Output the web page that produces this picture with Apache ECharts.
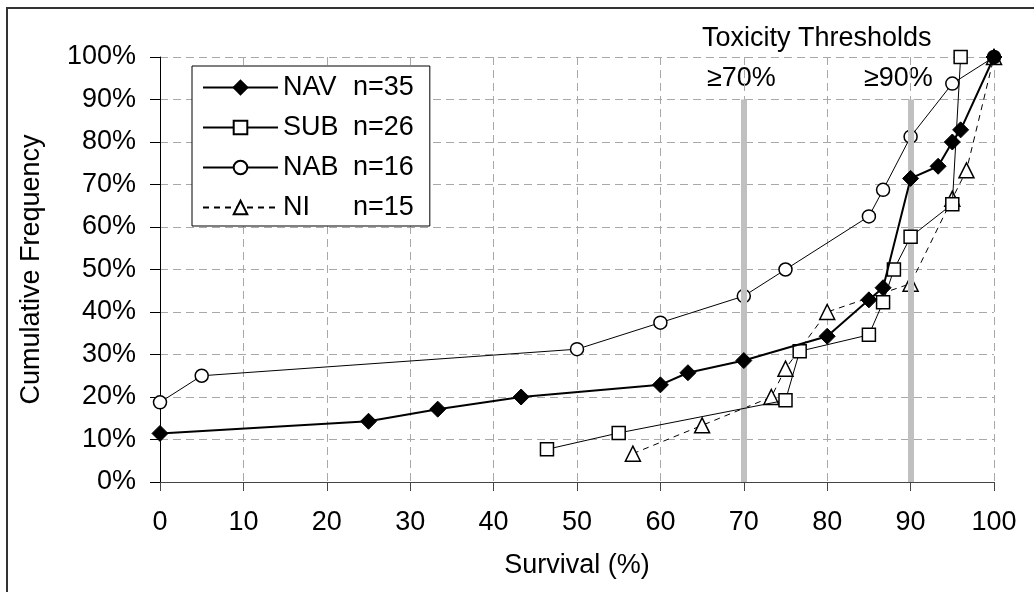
<!DOCTYPE html>
<html>
<head>
<meta charset="utf-8">
<script src="https://cdn.jsdelivr.net/npm/echarts@6/dist/echarts.min.js"></script>
<style>
  html,body{margin:0;padding:0;background:#fff;}
  #chart{width:1034px;height:592px;}
</style>
</head>
<body>
<div id="chart"></div>
<script>
// survival (%) vs cumulative frequency (%)
const navSurvival = [0, 25, 33.3, 43.3, 60, 63.3, 70, 80, 85, 86.7, 90, 93.3, 95, 96, 100];
const navFreq     = [11.43, 14.29, 17.14, 20, 22.86, 25.71, 28.57, 34.29, 42.86, 45.71, 71.43, 74.29, 80, 82.86, 100];

const subSurvival = [46.4, 55, 75, 76.7, 85, 86.7, 88, 90, 95, 96];
const subFreq     = [7.69, 11.54, 19.23, 30.77, 34.62, 42.31, 50, 57.69, 65.38, 100];

const nabSurvival = [0, 5, 50, 60, 70, 75, 85, 86.7, 90, 95, 100];
const nabFreq     = [18.75, 25, 31.25, 37.5, 43.75, 50, 62.5, 68.75, 81.25, 93.75, 100];

const niSurvival  = [56.7, 65, 73.3, 75, 80, 90, 95, 96.7, 100];
const niFreq      = [6.67, 13.33, 20, 26.67, 40, 46.67, 66.67, 73.33, 100];

const groups = ['NAV', 'SUB', 'NAB', 'NI'];
const counts = [35, 26, 16, 15];
const thresholds = [70, 90];
const thresholdTop = 90;

const FONT = '"Liberation Sans", Arial, sans-serif';
const FS = 27;

const zip = (xs, ys) => xs.map((x, i) => [x, ys[i]]);
const seriesName = i => groups[i] + ' n=' + counts[i];

const chart = echarts.init(document.getElementById('chart'));

const baseLine = {
    type: 'line',
    z: 3,
    color: '#000',
    animation: false
};

const option = {
    backgroundColor: '#fff',
    textStyle: { fontFamily: FONT },
    grid: { left: 160, right: 40, top: 57, bottom: 110 },
    legend: {
        orient: 'vertical',
        left: 192,
        top: 66,
        data: groups.map((g, i) => seriesName(i)),
        itemWidth: 75,
        itemHeight: 17,
        itemGap: 13,
        padding: [8, 16, 5, 10],
        borderColor: '#000',
        borderWidth: 1,
        backgroundColor: '#fff',
        formatter: name => {
            const [g, n] = name.split(' ');
            return '{a|' + g + '}{b|' + n + '}';
        },
        textStyle: {
            color: '#000',
            fontSize: FS,
            fontFamily: FONT,
            rich: {
                a: { width: 70, fontSize: FS, fontFamily: FONT, color: '#000', lineHeight: 28 },
                b: { fontSize: FS, fontFamily: FONT, color: '#000', lineHeight: 28 }
            }
        }
    },
    xAxis: {
        type: 'value',
        min: 0, max: 100, interval: 10,
        name: 'Survival (%)',
        nameLocation: 'middle',
        nameGap: 70,
        nameTextStyle: { fontSize: FS, color: '#000', fontFamily: FONT },
        axisLine: { lineStyle: { color: '#444', width: 1 } },
        axisTick: { show: true, length: 9, lineStyle: { color: '#444' } },
        axisLabel: { fontSize: FS, color: '#000', margin: 27, fontFamily: FONT },
        splitLine: { show: true, lineStyle: { type: [8, 5], color: '#a8a8a8', width: 1 } }
    },
    yAxis: {
        type: 'value',
        min: 0, max: 100, interval: 10,
        name: 'Cumulative Frequency',
        nameLocation: 'middle',
        nameGap: 115,
        nameTextStyle: { fontSize: FS, color: '#000', fontFamily: FONT },
        axisLine: { show: true, lineStyle: { color: '#000', width: 1 } },
        axisTick: { show: true, length: 10, lineStyle: { color: '#000' } },
        axisLabel: { fontSize: FS, color: '#000', margin: 24, formatter: '{value}%', fontFamily: FONT },
        splitLine: { show: true, lineStyle: { type: [8, 5], color: '#a8a8a8', width: 1 } }
    },
    series: [
        {
            name: 'thresholds',
            type: 'line',
            data: [],
            z: 1,
            markLine: {
                silent: true,
                symbol: 'none',
                label: { show: false },
                lineStyle: { color: '#c0c0c0', width: 6, type: 'solid' },
                data: thresholds.map(t => [{ coord: [t, 0] }, { coord: [t, thresholdTop] }])
            }
        },
        Object.assign({}, baseLine, {
            name: seriesName(0),
            data: zip(navSurvival, navFreq),
            symbol: 'diamond',
            symbolSize: 16,
            z: 6,
            lineStyle: { color: '#000', width: 2 },
            itemStyle: { color: '#000', borderColor: '#000', borderWidth: 1 }
        }),
        Object.assign({}, baseLine, {
            name: seriesName(1),
            data: zip(subSurvival, subFreq),
            symbol: 'rect',
            symbolSize: 13,
            z: 5,
            lineStyle: { color: '#000', width: 1 },
            itemStyle: { color: '#fff', borderColor: '#000', borderWidth: 1.5 }
        }),
        Object.assign({}, baseLine, {
            name: seriesName(2),
            data: zip(nabSurvival, nabFreq),
            symbol: 'circle',
            symbolSize: 13,
            z: 4,
            lineStyle: { color: '#000', width: 1 },
            itemStyle: { color: '#fff', borderColor: '#000', borderWidth: 1.5 }
        }),
        Object.assign({}, baseLine, {
            name: seriesName(3),
            data: zip(niSurvival, niFreq),
            symbol: 'triangle',
            symbolSize: 15,
            z: 3,
            lineStyle: { color: '#000', width: 1, type: [6, 5] },
            itemStyle: { color: '#fff', borderColor: '#000', borderWidth: 1.5 }
        })
    ],
    graphic: [
        {
            type: 'rect',
            silent: true,
            shape: { x: 7, y: 8, width: 1200, height: 800 },
            style: { fill: 'none', stroke: '#333', lineWidth: 2 }
        },
        {
            type: 'text',
            left: 702, top: 25,
            style: { text: 'Toxicity Thresholds', fontSize: FS, fontFamily: FONT, fill: '#000' }
        },
        {
            type: 'text',
            left: 707, top: 65,
            style: { text: '≥70%', fontSize: FS, fontFamily: FONT, fill: '#000' }
        },
        {
            type: 'text',
            left: 864, top: 65,
            style: { text: '≥90%', fontSize: FS, fontFamily: FONT, fill: '#000' }
        }
    ]
};

chart.setOption(option);
</script>
</body>
</html>
